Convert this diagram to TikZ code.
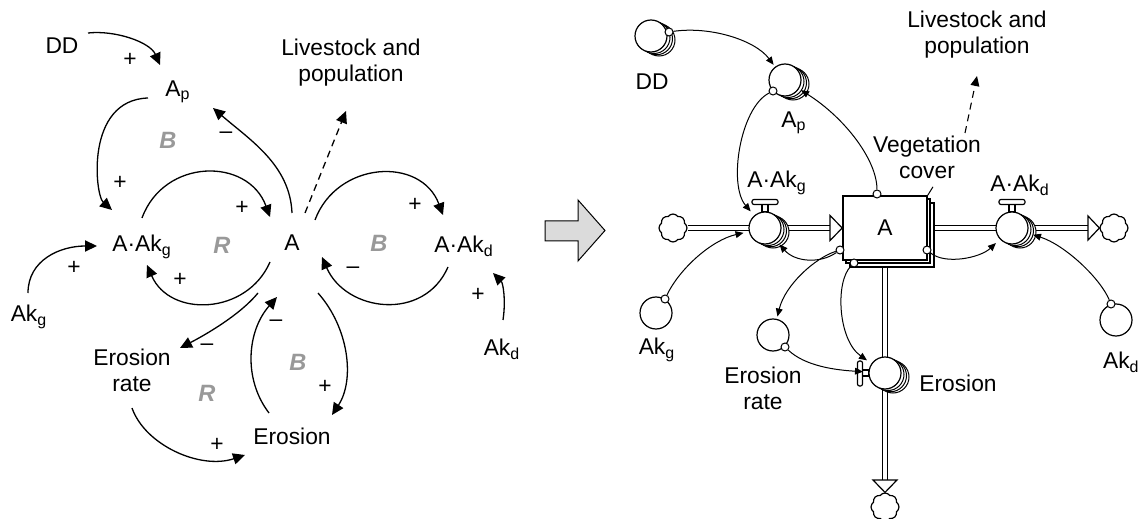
\documentclass[tikz,border=0pt]{standalone}
\usepackage{fontspec}
\setmainfont{Liberation Sans}
\usetikzlibrary{arrows.meta,calc,shapes.symbols}

\definecolor{loopgray}{gray}{0.6}
\definecolor{arrowgray}{gray}{0.86}

\begin{document}
\begin{tikzpicture}[x=0.5pt, y=-0.5pt,
  font=\fontsize{11.4}{13}\selectfont,
  lbl/.style={align=center, inner sep=1pt},
  sgn/.style={inner sep=0pt},
  loopname/.style={inner sep=0pt, font=\fontsize{11.8}{13}\selectfont\bfseries\itshape, text=loopgray},
  link/.style={-{Triangle[length=6pt,width=5.6pt]}, line width=.65pt},
  dlink/.style={link, dash pattern=on 3.5pt off 2.5pt},
  flink/.style={-{Triangle[length=4pt,width=3.4pt]}, line width=.5pt},
  fdlink/.style={-{Triangle[length=5pt,width=4.4pt]}, line width=.55pt, dash pattern=on 3.5pt off 2.5pt},
  aux/.style={circle, draw, fill=white, line width=.6pt, minimum size=16pt,
              inner sep=0pt, outer sep=1.5pt},
  valve/.style={aux, outer sep=3pt},
  pin/.style={circle, draw, fill=white, line width=.5pt, minimum size=4pt, inner sep=0pt},
  stock/.style={draw, fill=white, line width=.75pt, minimum width=42pt,
                minimum height=32pt, inner sep=0pt},
  pipe/.style={draw, double, double distance=2pt, line width=.5pt},
  sink/.style={cloud, cloud puffs=8, cloud puff arc=110, aspect=1, draw, fill=white,
               line width=.6pt, minimum width=14pt, minimum height=14pt, inner sep=0pt},
  hollow/.style={draw, fill=white, line width=.6pt}
]
\useasboundingbox (0,0) rectangle (1142,519);

% ---- causal loop diagram
\node[lbl] (DD) at (62,46) {DD};
\node[lbl] (Ap) at (178,92) {A\textsubscript{p}};
\node[lbl] (LS) at (351,63) {Livestock and\\population};
\node[lbl] (AAkg) at (142,247) {A·Ak\textsubscript{g}};
\node[lbl] (A) at (292,243) {A};
\node[lbl] (AAkd) at (464,246) {A·Ak\textsubscript{d}};
\node[lbl] (Akg) at (29,317) {Ak\textsubscript{g}};
\node[lbl] (Akd) at (502,349) {Ak\textsubscript{d}};
\node[lbl] (ER) at (132,370) {Erosion\\rate};
\node[lbl] (Er) at (292,436) {Erosion};

\draw[link] ($(DD)+(26,-13)$) .. controls +(27,-3) and +(-10,-23) .. ($(Ap)+(-18,-27)$);
\draw[link] ($(Ap)+(-30,6)$) .. controls +(-63,2) and +(-17,-15) .. ($(AAkg)+(-30,-37)$);
\draw[link] ($(A)+(0,-30)$) .. controls +(-2,-48) and +(37,32) .. ($(Ap)+(35,16)$);
\draw[dlink] ($(A)+(13,-30)$) -- ($(LS)+(-5,48)$);
\draw[link] ($(AAkg)+(0,-29)$) .. controls +(22,-60) and +(-22,-60) .. ($(A)+(-22,-26)$);
\draw[link] ($(A)+(-22,19)$) .. controls +(-23,53) and +(23,53) .. ($(AAkg)+(5,18)$);
\draw[link] ($(Akg)+(-1,-24)$) .. controls +(0,-33) and +(-37,0) .. ($(AAkg)+(-45,-1)$);
\draw[link] ($(A)+(-34,50)$) .. controls +(-18,22) and +(25,-13) .. ($(ER)+(48,-22)$);
\draw[link] ($(Er)+(-23,-23)$) .. controls +(-26,-34) and +(-30,34) .. ($(A)+(-15,54)$);
\draw[link] ($(A)+(26,50)$) .. controls +(31,35) and +(23,-35) .. ($(Er)+(40,-21)$);
\draw[link] ($(ER)+(0,38)$) .. controls +(13,37) and +(-45,15) .. ($(Er)+(-47,19)$);
\draw[link] ($(A)+(23,-23)$) .. controls +(22,-59) and +(-22,-59) .. ($(AAkd)+(-21,-31)$);
\draw[link] ($(AAkd)+(-16,21)$) .. controls +(-24,55) and +(24,55) .. ($(A)+(30,14)$);
\draw[link] ($(Akd)+(1,-29)$) .. controls +(3,-20) and +(10,10) .. ($(AAkd)+(29,27)$);

\foreach \x/\y/\s [count=\i] in {130/60/+, 120/183/+, 226/135/--, 242/208/+,
    74/268/+, 180/280/+, 207/347/--, 276/323/--, 325/387/+, 217/445/+,
    415/205/+, 353/270/--, 478/295/+}
  \node[sgn] (sg\i) at (\x,\y) {\s};

\node[loopname] (loopB1) at (168,140) {B};
\node[loopname] (loopR1) at (222,245) {R};
\node[loopname] (loopB2) at (379,243) {B};
\node[loopname] (loopB3) at (298,362) {B};
\node[loopname] (loopR2) at (207,393) {R};

% ---- conversion arrow
\filldraw[fill=arrowgray, line width=.5pt] (545,221) -- (578,221) -- (578,200)
  -- (605,230.5) -- (578,261) -- (578,241) -- (545,241) -- cycle;

% ---- stock and flow diagram
\foreach \d in {7,3}
  \draw[line width=.6pt, fill=white] (843+\d,196+\d) rectangle (927+\d,260+\d);
\node[stock] (stock) at (885,228) {A};

\node[sink] (cloudL) at (673,228) {};
\node[sink] (cloudR) at (1114,228) {};
\node[sink] (cloudB) at (885,507) {};
\coordinate (inL) at (830,228);
\coordinate (outR) at (1088,228);
\coordinate (outB) at (885,480);

\draw[pipe] (cloudL) -- (inL);
\draw[pipe] ([xshift=3.5pt]stock.east) -- (outR);
\draw[pipe] ([yshift=-3.5pt]stock.south) -- (outB);
\draw[hollow] ($(inL)+(0,-12.5)$) -- (stock.west) -- ($(inL)+(0,12.5)$) -- cycle;
\draw[hollow] ($(outR)+(0,-12)$) -- (cloudR.west) -- ($(outR)+(0,12)$) -- cycle;
\draw[hollow] ($(outB)+(-12,0)$) -- (cloudB.north) -- ($(outB)+(12,0)$) -- cycle;

% stacked copies behind the subscripted variables
\foreach \x/\y in {651/36, 785/80, 765/228, 1012/228, 885/373}
  \foreach \d in {8,5.5,3}
    \draw[line width=.5pt, fill=white] (\x+\d,\y+\d/2) circle (8pt);

% valve handles
\foreach \x in {765,1012} {
  \draw[hollow] (\x-3,212) rectangle (\x+3,204.5);
  \draw[hollow, rounded corners=1pt] (\x-13,199.5) rectangle (\x+13,204.5);
}
\draw[hollow] (869,370) rectangle (862.5,376);
\draw[hollow, rounded corners=1pt] (857.5,361) rectangle (862.5,386);

\node[aux] (DDc) at (651,36) {};
\node[aux] (ApC) at (785,80) {};
\node[valve] (vg) at (765,228) {};
\node[valve] (vd) at (1012,228) {};
\node[valve] (vE) at (885,373) {};
\node[aux] (Akgc) at (656,313) {};
\node[aux] (ERc) at (773,335) {};
\node[aux] (Akdc) at (1116,320) {};

\node[pin] (mDD) at (669,32) {};
\node[pin] (mAp) at (773,91) {};
\node[pin] (mTop) at (877,194) {};
\node[pin] (mL) at (840,250) {};
\node[pin] (mB) at (854,263) {};
\node[pin] (mR) at (927,250) {};
\node[pin] (mAkg) at (665,299) {};
\node[pin] (mAkd) at (1111,304) {};
\node[pin] (mER) at (785,347) {};

\draw[flink] (mDD) .. controls (710,26) and (755,40) .. (ApC);
\draw[flink] (mAp) .. controls (740,108) and (728,185) .. (vg);
\draw[flink] (mTop) .. controls (877,160) and (845,118) .. (ApC);
\draw[flink] (mL) .. controls (820,264) and (795,262) .. (vg);
\draw[flink] (mL) .. controls (815,258) and (785,285) .. (ERc);
\draw[flink] (mB) .. controls (835,282) and (838,340) .. (vE);
\draw[flink] (mR) .. controls (945,265) and (980,258) .. (vd);
\draw[flink] (mAkg) .. controls (680,268) and (712,240) .. (vg);
\draw[flink] (mAkd) .. controls (1100,278) and (1065,245) .. (vd);
\draw[flink] (mER) .. controls (805,366) and (835,370) .. (vE);

\node[lbl] (DDr) at (652,82) {DD};
\node[lbl] (Apr) at (794,123) {A\textsubscript{p}};
\node[lbl] (LSr) at (977,35) {Livestock and\\population};
\node[lbl] (veg) at (927,157) {Vegetation\\cover};
\node[lbl] (AAkgr) at (777,183) {A·Ak\textsubscript{g}};
\node[lbl] (AAkdr) at (1020,185) {A·Ak\textsubscript{d}};
\node[lbl] (Akgr) at (657,350) {Ak\textsubscript{g}};
\node[lbl] (ERr) at (763,388) {Erosion\\rate};
\node[lbl] (Err) at (958,383) {Erosion};
\node[lbl, anchor=east] (Akdr) at (1142,362) {Ak\textsubscript{d}};

\draw[line width=.5pt] ([xshift=3pt,yshift=-3pt]veg.south) -- (stock.north east);
\draw[fdlink] ($(veg)+(38,-24)$) -- ($(LSr)+(0,41)$);
\end{tikzpicture}
\end{document}
